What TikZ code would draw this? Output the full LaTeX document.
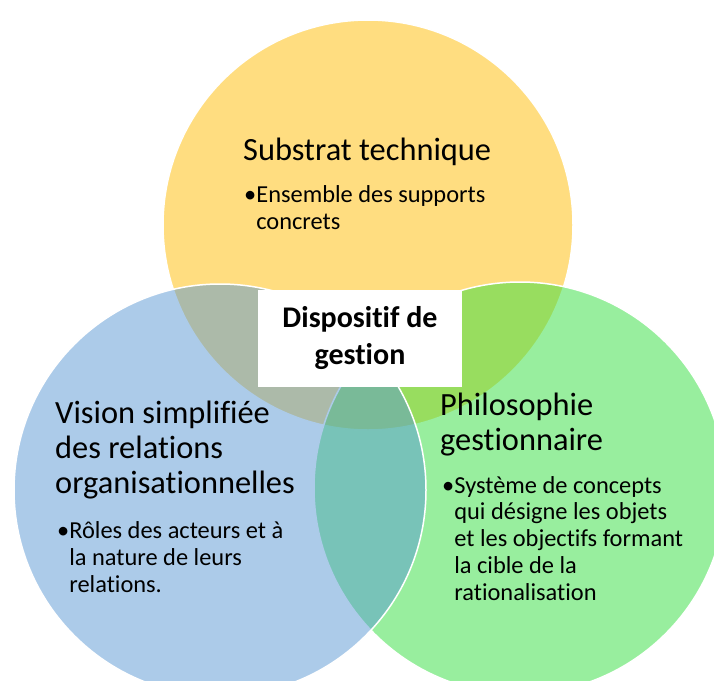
\documentclass[tikz,border=0pt]{standalone}
\usepackage{fontspec}
\setmainfont{Carlito}[Ligatures=NoCommon]
\definecolor{jaune}{RGB}{255,188,2}
\definecolor{vert}{RGB}{50,222,62}
\definecolor{bleu}{RGB}{90,152,211}
\begin{document}
\begin{tikzpicture}[
x                = 1pt,
y                = -1pt,
cercle/.style    = {draw=white, line width=1.5pt, fill opacity=0.5},
titre/.style     = {anchor=base west, inner sep=0pt, align=left, font=\fontsize{32.4}{35}\selectfont},
puce/.style      = {anchor=base west, inner sep=0pt, align=left, font=\fontsize{24.4}{26.7}\selectfont},
centre/.style    = {fill=white, minimum width=204pt, minimum height=97pt, inner sep=0pt, align=center, font=\bfseries\fontsize{30}{37}\selectfont}
]
\useasboundingbox (0,0) rectangle (714,680);

% les trois cercles
\draw[cercle, fill=jaune] (368,225) circle [radius=205pt];
\draw[cercle, fill=vert]  (520,488) circle [radius=206pt];
\draw[cercle, fill=bleu]  (220,490) circle [radius=206pt];

\node[centre] (dispositif) at (360,338) {Dispositif de\\gestion};

% textes (ancre = ligne de base de la derniere ligne)
\node[titre] (substrat) at (243,160) {Substrat technique};
\node[puce] (substrat-puce) at (244,229) {•Ensemble des supports\\\hphantom{•}concrets};

\node[titre] (vision) at (55,493) {Vision simplifiée\\des relations\\organisationnelles};
\node[puce] (vision-puce) at (57,592) {•Rôles des acteurs et à\\\hphantom{•}la nature de leurs\\\hphantom{•}relations.};

\node[titre] (philo) at (440,450) {Philosophie\\gestionnaire};
\node[puce] (philo-puce) at (442,600) {•Système de concepts\\\hphantom{•}qui désigne les objets\\\hphantom{•}et les objectifs formant\\\hphantom{•}la cible de la\\\hphantom{•}rationalisation};
\end{tikzpicture}
\end{document}
